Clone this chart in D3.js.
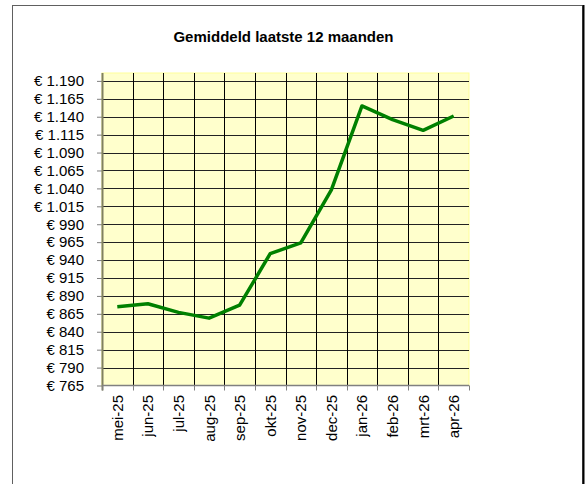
<!DOCTYPE html>
<html>
<head>
<meta charset="utf-8">
<script src="https://cdn.jsdelivr.net/npm/d3@7"></script>
<style>
  body { margin: 0; background: #fff; }
  text { font-family: "Liberation Sans", Arial, sans-serif; }
</style>
</head>
<body>
<svg width="587" height="484"></svg>
<script>
// data
const months = ['mei-25', 'jun-25', 'jul-25', 'aug-25', 'sep-25', 'okt-25',
    'nov-25', 'dec-25', 'jan-26', 'feb-26', 'mrt-26', 'apr-26']
const averages = [875, 879, 867, 859, 877, 949, 964, 1038, 1155, 1136, 1121, 1141]
const yTicks = d3.range(765, 1191, 25)
const title = 'Gemiddeld laatste 12 maanden'

const svg = d3.select('svg')
const plot = { left: 102, right: 469, top: 73, bottom: 385.5 }

const nl = d3.formatLocale({ decimal: ',', thousands: '.', grouping: [3], currency: ['€ ', ''] })
const fmt = v => '€ ' + nl.format(',d')(v)

// outer chart border
svg.append('rect')
    .attr('x', 12.5).attr('y', 5.5)
    .attr('width', 570).attr('height', 490)
    .style('fill', 'white')
    .style('stroke', '#606060')
    .style('stroke-width', 1)
svg.append('line')
    .attr('x1', 583.5).attr('x2', 583.5)
    .attr('y1', 5).attr('y2', 484)
    .style('stroke', 'black')
    .style('stroke-width', 2)

svg.append('text')
    .attr('x', 283.5).attr('y', 42)
    .attr('text-anchor', 'middle')
    .style('font-size', '15px')
    .style('font-weight', 'bold')
    .text(title)

const x = d3.scaleBand().domain(months).range([plot.left, plot.right])
const y = d3.scaleLinear().domain([765, 1201]).range([plot.bottom, plot.top])

// plot area
svg.append('rect')
    .attr('x', plot.left).attr('y', plot.top)
    .attr('width', plot.right - plot.left).attr('height', plot.bottom - plot.top)
    .style('fill', '#ffffcc')
    .style('stroke', '#ffff99')
    .style('stroke-width', 1)

// horizontal gridlines
svg.append('g').selectAll('line')
    .data(yTicks.slice(1))
    .join('line')
    .attr('x1', plot.left).attr('x2', plot.right)
    .attr('y1', d => Math.round(y(d)) + 0.5).attr('y2', d => Math.round(y(d)) + 0.5)
    .style('stroke', '#222')
    .style('stroke-width', 1)

// vertical gridlines at category boundaries
svg.append('g').selectAll('line')
    .data(months.slice(1))
    .join('line')
    .attr('x1', d => Math.round(x(d)) + 0.5).attr('x2', d => Math.round(x(d)) + 0.5)
    .attr('y1', plot.top).attr('y2', plot.bottom)
    .style('stroke', 'black')
    .style('stroke-width', 1)

// y axis
const yAxis = svg.append('g')
    .attr('transform', `translate(${plot.left},0)`)
    .call(d3.axisLeft(y).tickValues(yTicks).tickFormat(fmt).tickSize(5).tickSizeOuter(0))
yAxis.select('.domain').remove()
yAxis.selectAll('.tick line').style('stroke', '#808080')
yAxis.selectAll('text')
    .attr('x', -18)
    .style('font-size', '15px')
    .style('fill', 'black')
svg.append('line')
    .attr('x1', plot.left + 0.5).attr('x2', plot.left + 0.5)
    .attr('y1', plot.top).attr('y2', plot.bottom + 5)
    .style('stroke', '#808060')
    .style('stroke-width', 2)

// x axis
svg.append('line')
    .attr('x1', plot.left).attr('x2', plot.right)
    .attr('y1', plot.bottom).attr('y2', plot.bottom)
    .style('stroke', '#808080')
    .style('stroke-width', 1.5)
svg.append('g').selectAll('line')
    .data(months.concat(['end']))
    .join('line')
    .attr('x1', (d, i) => Math.round(plot.left + i * x.step()) + 0.5)
    .attr('x2', (d, i) => Math.round(plot.left + i * x.step()) + 0.5)
    .attr('y1', plot.bottom).attr('y2', plot.bottom + 5)
    .style('stroke', '#808080')

svg.append('g').selectAll('text')
    .data(months)
    .join('text')
    .attr('transform', d => `translate(${x(d) + x.bandwidth() / 2 + 5.5},395) rotate(-90)`)
    .attr('text-anchor', 'end')
    .style('font-size', '15px')
    .text(d => d)

// line
const line = d3.line()
    .x((d, i) => x(months[i]) + x.bandwidth() / 2)
    .y(d => y(d))
svg.append('path')
    .attr('d', line(averages))
    .style('fill', 'none')
    .style('stroke', '#008000')
    .style('stroke-width', 3.5)
    .style('stroke-linejoin', 'round')
</script>
</body>
</html>
